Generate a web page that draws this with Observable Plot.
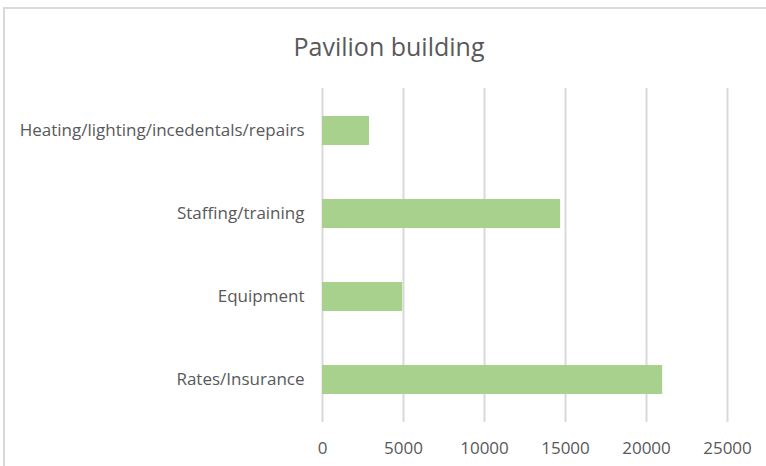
<!DOCTYPE html>
<html>
<head>
<meta charset="utf-8">
<script src="https://cdn.jsdelivr.net/npm/d3@7"></script>
<script src="https://cdn.jsdelivr.net/npm/@observablehq/plot@0.6"></script>
<style>
  body { margin: 0; background: #fff; }
  #wrap { position: relative; width: 766px; height: 466px; overflow: hidden; background: #fff; }
  #frame { position: absolute; left: 3px; top: 7px; width: 820px; height: 520px; border: 2px solid #d9d9d9; box-sizing: border-box; }
  #title { position: absolute; left: 0; width: 778px; top: 34px; line-height: 25px; text-align: center; font-family: "Open Sans", sans-serif; font-size: 25px; color: #595959; }
  #chart { position: absolute; left: 0; top: 0; }
</style>
</head>
<body>
<div id="wrap">
  <div id="frame"></div>
  <div id="title">Pavilion building</div>
  <div id="chart"></div>
</div>
<script>
const categories = ["Heating/lighting/incedentals/repairs", "Staffing/training", "Equipment", "Rates/Insurance"];
const values = [2900, 14700, 4950, 21000];
const xTicks = [0, 5000, 10000, 15000, 20000, 25000];

const data = categories.map((c, i) => ({category: c, value: values[i]}));

const plot = Plot.plot({
  width: 766,
  height: 466,
  marginLeft: 322,
  marginRight: 39,
  marginTop: 88,
  marginBottom: 44,
  style: {background: "transparent", fontFamily: "Open Sans, sans-serif", fontSize: "17px", color: "#595959", overflow: "visible"},
  x: {domain: [0, 25000], ticks: xTicks, tickFormat: d => String(d)},
  y: {domain: categories, paddingInner: 0.65, paddingOuter: 0.325},
  marks: [
    Plot.gridX(xTicks, {stroke: "#d9d9d9", strokeOpacity: 1, strokeWidth: 2}),
    Plot.barX(data, {x: "value", y: "category", fill: "#a9d18e"}),
    Plot.axisX({ticks: xTicks, tickSize: 0, tickPadding: 19, tickFormat: d => String(d), label: null, fontSize: 17, fill: "#595959"}),
    Plot.axisY({tickSize: 0, tickPadding: 18, label: null, fontSize: 17, fill: "#595959"})
  ]
});
document.getElementById("chart").appendChild(plot);
</script>
</body>
</html>
